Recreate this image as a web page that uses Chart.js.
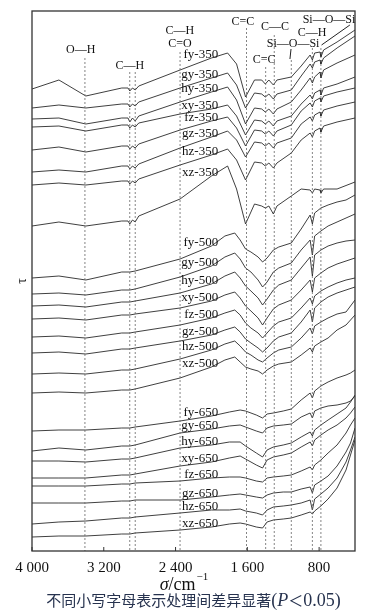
<!DOCTYPE html>
<html><head><meta charset="utf-8">
<script src="https://cdn.jsdelivr.net/npm/chart.js@4"></script>
<style>html,body{margin:0;padding:0;background:#fff}#c{display:block}</style>
</head><body>
<canvas id="c" width="392" height="614"></canvas>
<script>
// wavenumber grids (cm-1)
const wn350 = [4000,3700,3400,3000,2930,2910,2880,2850,2810,2350,2000,1820,1720,1620,1520,1440,1400,1360,1310,1270,1110,1000,900,875,850,790,780,750,600,400];
const wn500 = [4000,3700,3400,3000,2910,2850,2350,2000,1850,1740,1680,1620,1560,1480,1430,1380,1310,1250,1110,1000,900,875,850,780,700,600,500,400];
const wn650 = [4000,3700,3400,3000,2910,2850,2350,2000,1800,1680,1620,1500,1430,1380,1310,1200,1110,1000,900,875,850,780,700,600,500,450,400];

// transmittance (offset, arbitrary units)
const fy350 = [46.2,47.1,45.5,46.3,46.3,46.0,46.3,46.1,46.5,48.1,49.3,49.8,48.7,45.4,47.1,47.1,46.7,47.1,46.6,47.1,47.4,48.5,49.6,49.1,49.8,49.9,49.4,50.1,50.9,52.1];
const gy350 = [44.3,44.6,44.3,44.7,44.7,44.4,44.7,44.5,44.9,46.3,47.3,47.8,46.6,44.3,45.8,45.7,45.4,45.7,45.2,45.7,46.1,47.5,48.7,48.3,48.9,49.1,48.7,49.3,50.3,51.5];
const hy350 = [43.2,43.3,42.7,43.3,43.3,42.9,43.3,43.0,43.5,44.9,45.9,46.4,45.1,42.7,44.3,44.2,43.9,44.2,43.7,44.2,44.9,46.1,47.3,46.8,47.4,47.9,47.3,48.1,48.8,49.6];
const xy350 = [42.4,42.5,42.0,42.6,42.6,42.3,42.6,42.4,42.8,43.7,44.2,44.6,43.5,41.6,43.1,43.0,42.7,43.0,42.5,43.0,43.5,44.7,45.6,45.2,45.8,46.1,45.6,46.3,46.7,47.4];
const fz350 = [40.1,40.4,39.9,40.5,40.5,40.2,40.5,40.3,40.7,42.1,43.0,43.4,42.3,40.5,42.1,42.0,41.7,42.0,41.5,42.0,42.6,44.0,44.8,44.4,45.0,45.3,44.9,45.5,45.9,46.3];
const gz350 = [37.9,38.1,37.9,38.5,38.5,38.2,38.5,38.3,38.7,40.3,41.4,42.0,41.1,39.4,40.9,40.8,40.5,40.8,40.3,40.8,41.3,42.7,43.4,43.0,43.6,43.9,43.5,44.1,44.5,44.9];
const hz350 = [36.6,36.8,36.6,37.0,37.0,36.7,37.0,36.8,37.2,38.6,39.6,40.2,39.1,37.1,38.9,38.8,38.5,38.8,38.3,38.8,39.8,41.1,41.8,41.4,42.0,42.3,41.9,42.5,42.9,43.3];
const xz350 = [32.5,32.9,32.5,33.0,33.0,32.7,33.1,32.9,33.5,35.2,37.5,38.5,36.2,32.7,34.7,34.5,34.3,34.5,33.7,34.5,35.5,36.2,36.1,35.8,36.2,36.1,35.8,36.2,36.2,36.9];

const fy500 = [27.3,27.5,27.1,27.9,27.9,28.0,29.2,30.5,31.5,31.8,31.1,30.2,29.9,29.4,28.9,29.3,30.1,30.4,30.8,32.2,33.6,32.7,33.8,34.3,34.6,34.9,35.1,35.6];
const gy500 = [25.7,25.8,25.6,26.1,26.1,26.2,27.4,28.5,29.4,29.8,29.2,28.3,27.9,27.1,26.4,26.9,27.9,28.3,28.8,30.1,31.1,29.6,31.5,32.0,32.5,32.9,33.3,33.7];
const hy500 = [24.5,24.6,24.4,24.9,24.9,25.0,25.8,26.7,27.5,27.9,27.3,26.5,26.0,25.3,24.6,25.2,26.1,26.6,27.1,28.3,29.4,27.5,29.6,30.1,30.5,30.8,31.0,31.1];
const xy500 = [23.2,23.3,23.1,23.6,23.6,23.7,24.3,25.0,25.6,25.9,25.3,24.5,24.0,23.3,22.6,23.3,24.2,24.6,25.1,26.1,27.1,25.9,27.3,27.8,28.3,28.7,29.0,29.3];
const fz500 = [21.4,21.5,21.3,21.8,21.8,21.9,22.6,23.3,23.8,24.1,23.6,22.8,22.3,21.8,21.3,21.8,22.5,22.9,23.3,24.3,25.3,24.7,25.5,26.0,26.4,26.8,27.1,27.3];
const gz500 = [19.8,19.9,19.7,20.2,20.2,20.3,21.0,21.6,22.1,22.4,21.9,21.2,20.8,20.3,19.9,20.3,21.0,21.4,21.8,22.9,24.1,22.9,24.3,24.9,25.4,25.8,26.1,26.4];
const hz500 = [17.7,17.8,17.7,18.1,18.1,18.2,19.2,20.1,20.7,21.0,20.5,19.9,19.6,19.1,18.9,19.3,19.8,20.1,20.4,21.3,22.3,21.7,22.5,22.9,23.3,23.7,23.9,25.1];
const xz500 = [15.8,15.9,15.8,16.1,16.1,16.2,17.3,18.4,19.1,19.4,18.9,18.4,18.2,18.0,17.7,18.1,18.5,18.7,18.9,19.6,20.3,19.9,20.5,20.9,21.3,22.1,22.6,23.6];

const fy650 = [12.0,12.1,12.1,12.3,12.3,12.4,13.0,13.5,13.9,14.1,14.0,13.6,13.3,13.7,13.8,14.0,14.2,15.1,15.8,15.3,16.0,16.5,16.9,17.3,17.6,17.8,18.1];
const gy650 = [10.0,10.3,10.1,10.5,10.5,10.6,11.8,12.2,12.5,12.6,12.4,12.0,11.8,12.3,12.5,12.6,12.7,13.4,13.8,13.3,14.0,14.3,14.5,14.6,14.8,15.0,15.5];
const hy650 = [9.0,9.0,8.9,9.2,9.2,9.3,10.3,10.6,10.9,10.9,10.5,9.8,9.4,10.1,10.4,10.6,10.8,11.4,11.9,11.5,12.1,12.6,13.1,13.7,14.3,14.9,15.6];
const xy650 = [7.3,7.3,7.3,7.6,7.6,7.7,8.5,8.9,9.3,9.5,9.2,8.6,8.3,9.1,9.4,9.6,9.8,10.4,10.9,10.5,11.1,11.6,12.1,12.6,13.3,13.8,14.4];
const fz650 = [6.5,6.5,6.5,6.7,6.7,6.8,7.0,7.3,7.4,7.4,7.3,7.0,6.9,7.3,7.4,7.5,7.6,8.0,8.4,8.1,8.6,9.1,9.8,10.6,11.8,12.6,13.3];
const gz650 = [4.8,4.8,4.8,5.0,5.0,5.1,5.1,5.4,5.6,5.7,5.6,5.4,5.3,5.6,5.8,5.9,5.9,6.2,6.4,5.8,6.6,7.0,7.5,8.5,9.9,10.8,12.3];
const hz650 = [2.7,2.9,3.0,3.3,3.3,3.4,3.8,4.1,4.1,4.2,4.0,3.8,3.6,4.1,4.4,4.5,4.6,4.8,5.1,4.1,5.2,5.7,6.3,7.3,8.9,10.1,11.4];
const xz650 = [1.4,1.5,1.5,1.7,1.7,1.8,2.1,2.4,2.7,2.8,2.7,2.4,2.3,2.9,3.1,3.2,3.3,3.6,3.9,3.7,4.0,4.5,5.2,6.3,8.1,9.6,11.1];

const treatments = ['fy','gy','hy','xy','fz','gz','hz','xz'];
const temps = ['350','500','650'];

// x tick labels
const xTickVals = [4000,3200,2400,1600,800];
const xTickText = ['4 000','3 200','2 400','1 600','800'];

// characteristic band positions (cm-1) and top of their dashed guide
const bandWn  = [3410,2910,2850,2350,1610,1395,1300,1110,875,780];
const bandTop = [49.3,47.9,47.9,49.9,52.3,48.4,51.6,49.1,50.3,50.3];

// band annotations
const bondText = ['O—H','C—H','C—H','C=O','C=C','C—C','C=C','Si—O—Si','C—H','Si—O—Si'];
const bondWn   = [3457,2910,2352,2352,1649,1292,1414,1090,879,690];
const bondTau  = [50.1,48.5,52.0,50.7,52.9,52.4,49.1,50.7,51.8,53.1];

const groupWn = [wn350, wn500, wn650];
const groupSeries = [
  [fy350,gy350,hy350,xy350,fz350,gz350,hz350,xz350],
  [fy500,gy500,hy500,xy500,fz500,gz500,hz500,xz500],
  [fy650,gy650,hy650,xy650,fz650,gz650,hz650,xz650]
];

const datasets = [];
bandWn.forEach((w,i)=>{
  datasets.push({data:[{x:w,y:bandTop[i]},{x:w,y:0}],borderColor:'#666',borderWidth:0.8,borderDash:[2,2],pointRadius:0,kind:'guide'});
});
// pointer strokes for Si—O—Si labels
datasets.push({data:[{x:457,y:52.6},{x:773,y:50.6}],borderColor:'#222',borderWidth:1,pointRadius:0});
datasets.push({data:[{x:1113,y:50.2},{x:1125,y:49.2}],borderColor:'#222',borderWidth:1,pointRadius:0});

const curveLabels = [];
groupSeries.forEach((grp,g)=>{
  const wn = groupWn[g];
  grp.forEach((s,k)=>{
    datasets.push({data:s.map((v,i)=>({x:wn[i],y:v})),borderColor:'#2a2a2a',borderWidth:0.9,pointRadius:0});
    const i2000 = wn.indexOf(2000);
    curveLabels.push({text:treatments[k]+'-'+temps[g], tau:s[i2000]+0.3});
  });
});

const decor = {
  id:'decor',
  afterDraw(chart){
    const {ctx, chartArea:a, scales:{x,y}} = chart;
    ctx.save();
    // frame
    ctx.strokeStyle='#333'; ctx.lineWidth=1.3;
    ctx.strokeRect(a.left, a.top, a.right-a.left, a.bottom-a.top);
    // ticks (inward)
    ctx.lineWidth=1;
    xTickVals.forEach(v=>{
      const px=x.getPixelForValue(v);
      ctx.beginPath(); ctx.moveTo(px,a.bottom); ctx.lineTo(px,a.bottom-4); ctx.stroke();
    });
    ctx.fillStyle='#111';
    ctx.font='15px "Liberation Serif"';
    ctx.textAlign='center'; ctx.textBaseline='alphabetic';
    xTickVals.forEach((v,i)=>{ ctx.fillText(xTickText[i], x.getPixelForValue(v), a.bottom+21); });
    // x title  σ/cm^-1
    const cx = (a.left+a.right)/2 - 10;
    ctx.font='italic 18px "Liberation Serif"';
    const w1=ctx.measureText('σ').width;
    ctx.font='18px "Liberation Serif"';
    const w2=ctx.measureText('/cm').width;
    ctx.font='11px "Liberation Serif"';
    const w3=ctx.measureText('−1').width;
    let sx = cx-(w1+w2+w3)/2;
    ctx.textAlign='left';
    ctx.font='italic 18px "Liberation Serif"'; ctx.fillText('σ',sx,a.bottom+39);
    ctx.font='18px "Liberation Serif"'; ctx.fillText('/cm',sx+w1,a.bottom+39);
    ctx.font='11px "Liberation Serif"'; ctx.fillText('−1',sx+w1+w2+1,a.bottom+29);
    // y title
    ctx.save();
    ctx.translate(a.left-10,(a.top+a.bottom)/2);
    ctx.rotate(-Math.PI/2);
    ctx.textAlign='center'; ctx.textBaseline='middle';
    ctx.font='14px "Liberation Serif"';
    ctx.fillText('τ',0,0);
    ctx.restore();
    // caption
    const capCJK='不同小写字母表示处理间差异显著';
    ctx.fillStyle='#26324e';
    ctx.font='15px "Noto Sans CJK SC"';
    const c1=ctx.measureText(capCJK).width;
    ctx.font='18px "Liberation Serif"';
    const c2=ctx.measureText('(').width;
    ctx.font='italic 18px "Liberation Serif"';
    const c3=ctx.measureText('P').width;
    ctx.font='15px "Noto Sans CJK SC"';
    const c4=ctx.measureText('＜').width;
    ctx.font='18px "Liberation Serif"';
    const c5=ctx.measureText('0.05)').width;
    let qx=(a.left+a.right)/2 - (c1+c2+c3+c4+c5)/2;
    const qy=a.bottom+55;
    ctx.textAlign='left';
    ctx.font='15px "Noto Sans CJK SC"'; ctx.fillText(capCJK,qx,qy); qx+=c1;
    ctx.font='18px "Liberation Serif"'; ctx.fillText('(',qx,qy); qx+=c2;
    ctx.font='italic 18px "Liberation Serif"'; ctx.fillText('P',qx,qy); qx+=c3;
    ctx.font='15px "Noto Sans CJK SC"'; ctx.fillText('＜',qx,qy); qx+=c4;
    ctx.font='18px "Liberation Serif"'; ctx.fillText('0.05)',qx,qy);
    // bond annotations
    ctx.fillStyle='#111';
    ctx.font='12px "Liberation Serif"';
    ctx.textAlign='center'; ctx.textBaseline='middle';
    bondText.forEach((t,i)=>{ ctx.fillText(t, x.getPixelForValue(bondWn[i]), y.getPixelForValue(bondTau[i])); });
    // curve labels
    ctx.font='13px "Liberation Serif"';
    ctx.textAlign='right';
    const lx = x.getPixelForValue(1925);
    curveLabels.forEach(l=>{ ctx.fillText(l.text, lx, y.getPixelForValue(l.tau)); });
    ctx.restore();
  }
};

new Chart(document.getElementById('c').getContext('2d'),{
  type:'line',
  data:{datasets},
  options:{
    responsive:false, animation:false, devicePixelRatio:1,
    layout:{padding:{left:32,right:37,top:11,bottom:63}},
    plugins:{legend:{display:false},tooltip:{enabled:false}},
    elements:{point:{radius:0},line:{tension:0}},
    scales:{
      x:{type:'linear',reverse:true,min:400,max:4000,display:false},
      y:{type:'linear',min:0,max:54,display:false}
    }
  },
  plugins:[decor]
});
</script>
</body></html>
